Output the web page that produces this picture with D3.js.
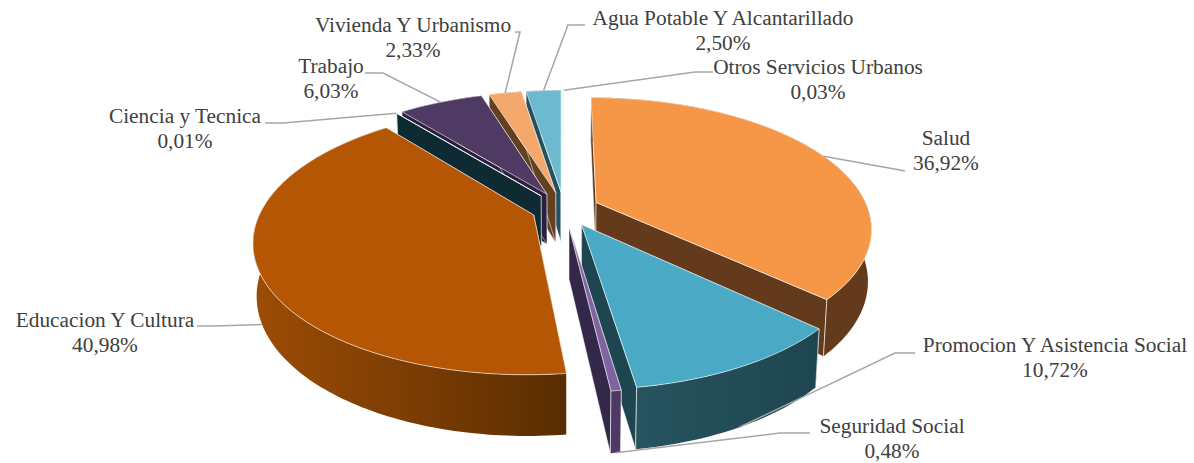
<!DOCTYPE html>
<html><head><meta charset="utf-8">
<script src="https://cdn.jsdelivr.net/npm/d3@7/dist/d3.min.js"></script>
<style>html,body{margin:0;padding:0;background:#fff;overflow:hidden}svg{display:block}</style>
</head><body><svg id="c" width="1194" height="463"></svg>
<script>
const categories=["Salud","Promocion Y Asistencia Social","Seguridad Social","Educacion Y Cultura","Ciencia y Tecnica","Trabajo","Vivienda Y Urbanismo","Agua Potable Y Alcantarillado","Otros Servicios Urbanos"];
const values=[36.92,10.72,0.48,40.98,0.01,6.03,2.33,2.50,0.03];
const valueLabels=["36,92%","10,72%","0,48%","40,98%","0,01%","6,03%","2,33%","2,50%","0,03%"];
const explode=[0.13,0.136,0.136,0.12,0.136,0.136,0.136,0.136,0.136];
const topColors=["#F59747","#4AAAC5","#8064A2","#B45604","#2A7A90","#4F3A63","#F4A86C","#6CB9D0","#6CB9D0"];
const wallColors=["#633A1C","#1E4650","#33274A","#5C2E02","#0E2A33","#2A1F3E","#63401F","#265060","#265060"];
const rimLight=["#633A1C","#27545F","#4E3866","#9C4C05","#0E2A33","#2A1F3E","#63401F","#265060","#265060"];
const rimDark=["#633A1C","#1E4650","#4E3866","#5A2D02","#0E2A33","#2A1F3E","#63401F","#265060","#265060"];
// layout of labels: text centre, first baseline, leader elbow and leader start
const labelX=[946,1055,892,105,185,331,413,723,818];
const labelY=[145,352,433,327,123,73,32,25,74];
const leaderStart=[[905,171],[915,353],[810,433],[197,326],[265,123],[365,73],[515,32],[585,25],[713,72]];
const leaderElbow=[[900,170],[895,353],[780,433],[215,326],[283,123],[383,73],[520,32],[568,25],[695,72]];
const leaderDepth=[0,1,1,1,0,0,0,0,0];

const cam={cx:564,cy:209,A:272,sin:0.467,cos:0.884,D:4.68,h:0.215,zk:0.25};
function project(X,Y,z){
  const w=1+(Y*cam.cos-z*cam.zk)/cam.D;
  return [cam.cx+cam.A*X/w, cam.cy-cam.A*(Y*cam.sin+z*cam.cos)/w];
}
const svg=d3.select("#c");
const defs=svg.append("defs");
const line=d3.line();
const arcs=d3.pie().sort(null).value(d=>d)(values);

const slices=arcs.map((a,i)=>{
  const mid=(a.startAngle+a.endAngle)/2;
  const ox=explode[i]*Math.sin(mid), oy=explode[i]*Math.cos(mid);
  const n=Math.max(2,Math.ceil((a.endAngle-a.startAngle)/0.02));
  const angs=d3.range(n+1).map(k=>a.startAngle+(a.endAngle-a.startAngle)*k/n);
  const rim=(z)=>angs.map(t=>project(ox+Math.sin(t),oy+Math.cos(t),z));
  return {i,mid,ox,oy,angs,rimTop:rim(0),rimBot:rim(-cam.h),apexTop:project(ox,oy,0),apexBot:project(ox,oy,-cam.h)};
});

// painter's order: far slices first
const gP=svg.append("g");
const edge="rgba(255,255,255,0.75)";
slices.slice().sort((a,b)=>Math.cos(b.mid)-Math.cos(a.mid)).forEach(s=>{
  const i=s.i,g=gP.append("g");
  const last=s.rimTop.length-1;
  const wall=(k)=>[s.apexTop,s.rimTop[k],s.rimBot[k],s.apexBot];
  g.append("path").attr("d",line(wall(0))+"Z").attr("fill",wallColors[i]).attr("stroke",edge).attr("stroke-width",0.7);
  g.append("path").attr("d",line(wall(last))+"Z").attr("fill",wallColors[i]).attr("stroke",edge).attr("stroke-width",0.7);
  const xs=s.rimBot.map(p=>p[0]);
  const id="rim"+i;
  const gr=defs.append("linearGradient").attr("id",id).attr("gradientUnits","userSpaceOnUse")
    .attr("x1",d3.min(xs)).attr("x2",d3.max(xs)).attr("y1",0).attr("y2",0);
  gr.append("stop").attr("offset",0).attr("stop-color",rimLight[i]);
  gr.append("stop").attr("offset",1).attr("stop-color",rimDark[i]);
  g.append("path").attr("d",line(s.rimTop.concat(s.rimBot.slice().reverse()))+"Z").attr("fill",`url(#${id})`);
  [0,last].forEach(k=>g.append("path").attr("d",line([s.rimTop[k],s.rimBot[k]])).attr("fill","none").attr("stroke",edge).attr("stroke-width",0.8));
  g.append("path").attr("d",line([s.apexTop].concat(s.rimTop))+"Z").attr("fill",topColors[i]).attr("stroke",edge).attr("stroke-width",0.8).attr("stroke-linejoin","round");
});

// leader lines
const gL=svg.append("g");
slices.forEach(s=>{
  const d=leaderDepth[s.i];
  const end=project(s.ox+Math.sin(s.mid),s.oy+Math.cos(s.mid),-cam.h*d);
  gL.append("path").attr("d",line([leaderStart[s.i],leaderElbow[s.i],end]))
    .attr("fill","none").attr("stroke","#A6A6A6").attr("stroke-width",1.5);
});

// labels
const gT=svg.append("g").attr("font-family","'Liberation Serif','Times New Roman',serif").attr("font-size",21.33).attr("fill","#404040").attr("text-anchor","middle");
categories.forEach((c,i)=>{
  gT.append("text").attr("x",labelX[i]).attr("y",labelY[i]).text(c);
  gT.append("text").attr("x",labelX[i]).attr("y",labelY[i]+25.4).text(valueLabels[i]);
});
</script></body></html>
